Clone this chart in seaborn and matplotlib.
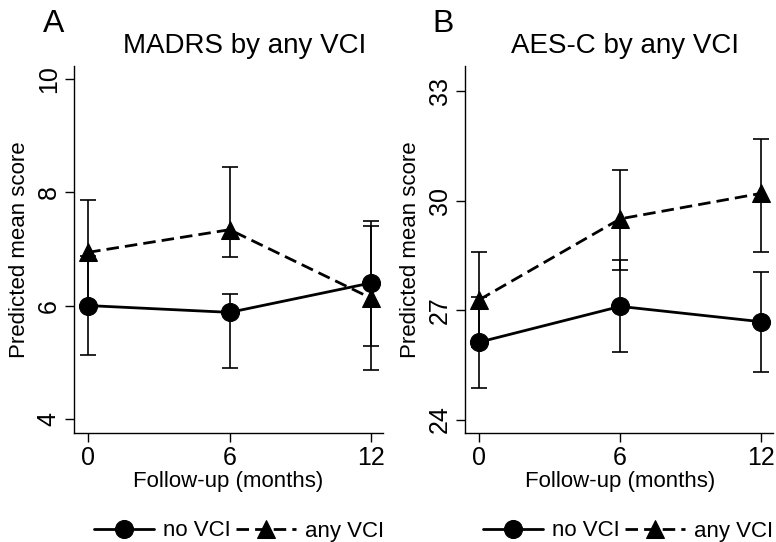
import matplotlib
matplotlib.use("Agg")
import matplotlib.pyplot as plt
import seaborn as sns
import pandas as pd
import numpy as np

months = [0, 6, 12]
groups = ["no VCI", "any VCI"]

# Panel A: MADRS
madrs_no = [6.00, 5.88, 6.40]
madrs_no_lo = [5.13, 4.90, 5.28]
madrs_no_hi = [6.87, 6.20, 7.50]
madrs_any = [6.94, 7.34, 6.13]
madrs_any_lo = [6.00, 6.85, 4.86]
madrs_any_hi = [7.87, 8.44, 7.40]

# Panel B: AES-C
aes_no = [26.12, 27.10, 26.68]
aes_no_lo = [24.87, 25.84, 25.30]
aes_no_hi = [27.37, 28.36, 28.04]
aes_any = [27.28, 29.50, 30.20]
aes_any_lo = [25.98, 28.10, 28.60]
aes_any_hi = [28.58, 30.85, 31.70]

titles = ["MADRS by any VCI", "AES-C by any VCI"]
letters = ["A", "B"]
yticks_a = [4, 6, 8, 10]
yticks_b = [24, 27, 30, 33]
xticks = [0, 6, 12]

sns.set_theme(style="white")
plt.rcParams["font.family"] = ["Liberation Sans", "DejaVu Sans"]
plt.rcParams["text.color"] = "black"
plt.rcParams["axes.labelcolor"] = "black"
plt.rcParams["xtick.color"] = "black"
plt.rcParams["ytick.color"] = "black"

W, H = 776, 542
fig = plt.figure(figsize=(W / 100, H / 100), dpi=100)


def px_axes(l, t, r, b):
    return fig.add_axes([l / W, 1 - b / H, (r - l) / W, (b - t) / H])


panels = [
    dict(ax=px_axes(74, 66, 383, 433), no=madrs_no, no_lo=madrs_no_lo, no_hi=madrs_no_hi,
         any=madrs_any, any_lo=madrs_any_lo, any_hi=madrs_any_hi, yticks=yticks_a,
         ylim=(3.75, 10.23), title_x=245, letter_x=43, ylab_x=20, leg_x=239, xlab_x=228),
    dict(ax=px_axes(465, 66, 773, 433), no=aes_no, no_lo=aes_no_lo, no_hi=aes_no_hi,
         any=aes_any, any_lo=aes_any_lo, any_hi=aes_any_hi, yticks=yticks_b,
         ylim=(23.63, 33.69), title_x=625, letter_x=432, ylab_x=410, leg_x=628, xlab_x=620),
]

for i, p in enumerate(panels):
    ax = p["ax"]
    df = pd.DataFrame({
        "month": months * 2,
        "score": list(p["no"]) + list(p["any"]),
        "group": [groups[0]] * 3 + [groups[1]] * 3,
    })
    sns.lineplot(data=df, x="month", y="score", style="group", style_order=groups,
                 markers={"no VCI": "o", "any VCI": "^"},
                 dashes={"no VCI": "", "any VCI": (4.5, 2.2)},
                 color="black", linewidth=2.0, markersize=13, ax=ax, legend=False,
                 markeredgecolor="black", markerfacecolor="black")
    line_no, line_any = ax.lines[0], ax.lines[1]
    line_any.set_markersize(13.5)
    for y, lo, hi in [(p["no"], p["no_lo"], p["no_hi"]), (p["any"], p["any_lo"], p["any_hi"])]:
        y = np.array(y); lo = np.array(lo); hi = np.array(hi)
        ax.errorbar(months, y, yerr=[y - lo, hi - y], fmt="none", ecolor="black",
                    elinewidth=1.2, capsize=6, capthick=1.2)
    ax.set_xlim(-0.6, 12.5)
    ax.set_ylim(*p["ylim"])
    ax.set_xticks(xticks)
    ax.set_yticks(p["yticks"])
    ax.tick_params(axis="both", direction="out", length=6.5, width=1.0, color="black",
                   labelcolor="black", labelsize=18, pad=3, left=True, bottom=True)
    for lab in ax.get_yticklabels():
        lab.set_rotation(90)
        lab.set_va("center")
    for s in ["top", "right"]:
        ax.spines[s].set_visible(False)
    for s in ["left", "bottom"]:
        ax.spines[s].set_color("black")
        ax.spines[s].set_linewidth(1.0)
    ax.set_xlabel("")
    ax.set_ylabel("")
    ax.grid(False)
    fig.text(p["xlab_x"] / W, 1 - 482 / H, "Follow-up (months)", ha="center", va="center",
             fontsize=16, color="black")
    fig.text(p["ylab_x"] / W, 1 - 250 / H, "Predicted mean score", ha="center", va="center",
             rotation=90, fontsize=16, color="black")
    fig.text(p["title_x"] / W, 1 - 53 / H, titles[i], ha="center", va="baseline", fontsize=20,
             color="black")
    fig.text(p["letter_x"] / W, 1 - 32 / H, letters[i], ha="left", va="baseline", fontsize=23,
             color="black")
    leg = fig.legend([line_no, line_any], groups, loc="center",
                     bbox_to_anchor=(p["leg_x"] / W, 1 - 531 / H),
                     ncol=2, frameon=False, fontsize=16, handlelength=2.7, handletextpad=0.4,
                     columnspacing=0.25, borderpad=0, borderaxespad=0)
    for t in leg.get_texts():
        t.set_color("black")

fig.savefig("out.png", dpi=100)
